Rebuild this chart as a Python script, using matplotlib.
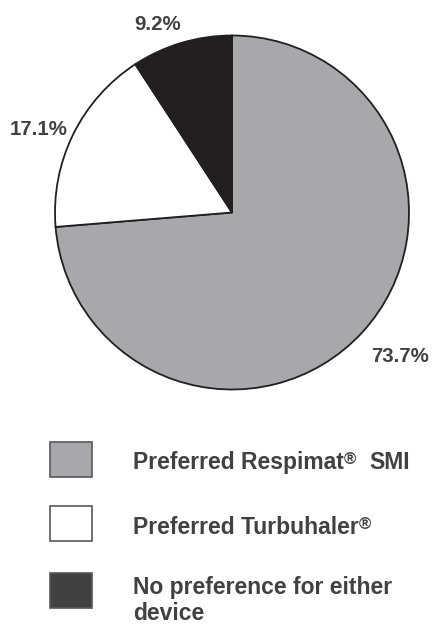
import matplotlib
matplotlib.use("Agg")
import matplotlib.pyplot as plt
from matplotlib.patches import Rectangle

categories = ["Preferred Respimat® SMI", "Preferred Turbuhaler®", "No preference for either device"]
values = [73.7, 17.1, 9.2]
pct_labels = ["73.7%", "17.1%", "9.2%"]
pie_colors = ["#a7a8ab", "#ffffff", "#231f20"]
legend_colors = ["#a7a8ab", "#ffffff", "#414042"]

W, H = 432, 626
fig = plt.figure(figsize=(W / 100, H / 100), dpi=100)
FAM = 'Liberation Sans'
txt_color = "#414042"

# pie axes: center (232,212.5) radius 177 px
cx, cy, r = 232, 212.5, 177
ax = fig.add_axes([(cx - r) / W, 1 - (cy + r) / H, 2 * r / W, 2 * r / H])
ax.pie(values, colors=pie_colors, startangle=90, counterclock=False,
       wedgeprops=dict(edgecolor="#231f20", linewidth=1.3), radius=1)
ax.set_xlim(-1, 1)
ax.set_ylim(-1, 1)
ax.set_aspect('equal')
ax.axis('off')

# percentage labels (pixel positions of centre x / baseline y)
label_pos = [(400.5, 362), (38.5, 135), (157.5, 30)]
for lab, (x, y) in zip(pct_labels, label_pos):
    fig.text(x / W, 1 - y / H, lab, ha='center', va='baseline', fontsize=14.7,
             family=FAM, fontweight='bold', color=txt_color)

# legend
boxes = [(50, 442), (50, 506), (50, 573)]
for (bx, by), col in zip(boxes, legend_colors):
    fig.patches.append(Rectangle((bx / W, 1 - (by + 35) / H), 42 / W, 35 / H,
                                 transform=fig.transFigure, facecolor=col,
                                 edgecolor="#58595b", linewidth=1.2))

fig.canvas.draw()
renderer = fig.canvas.get_renderer()
FS = 16.5

def add_with_reg(x, y, main, after=""):
    t = fig.text(x / W, 1 - y / H, main, ha='left', va='baseline', fontsize=FS,
                 family=FAM, fontweight='bold', color=txt_color)
    bb = t.get_window_extent(renderer)
    xr = bb.x1 / W
    r_t = fig.text(xr, 1 - (y - 5) / H, "®", ha='left', va='baseline', fontsize=12,
                   family=FAM, fontweight='bold', color=txt_color)
    if after:
        bb2 = r_t.get_window_extent(renderer)
        fig.text(bb2.x1 / W + 13 / W, 1 - y / H, after, ha='left', va='baseline',
                 fontsize=FS, family=FAM, fontweight='bold', color=txt_color)

add_with_reg(133, 469, "Preferred Respimat", "SMI")
add_with_reg(133, 534, "Preferred Turbuhaler")
fig.text(133 / W, 1 - 594 / H, "No preference for either", ha='left', va='baseline',
         fontsize=FS, family=FAM, fontweight='bold', color=txt_color)
fig.text(133 / W, 1 - 620 / H, "device", ha='left', va='baseline',
         fontsize=FS, family=FAM, fontweight='bold', color=txt_color)

fig.savefig("out.png", dpi=100)
